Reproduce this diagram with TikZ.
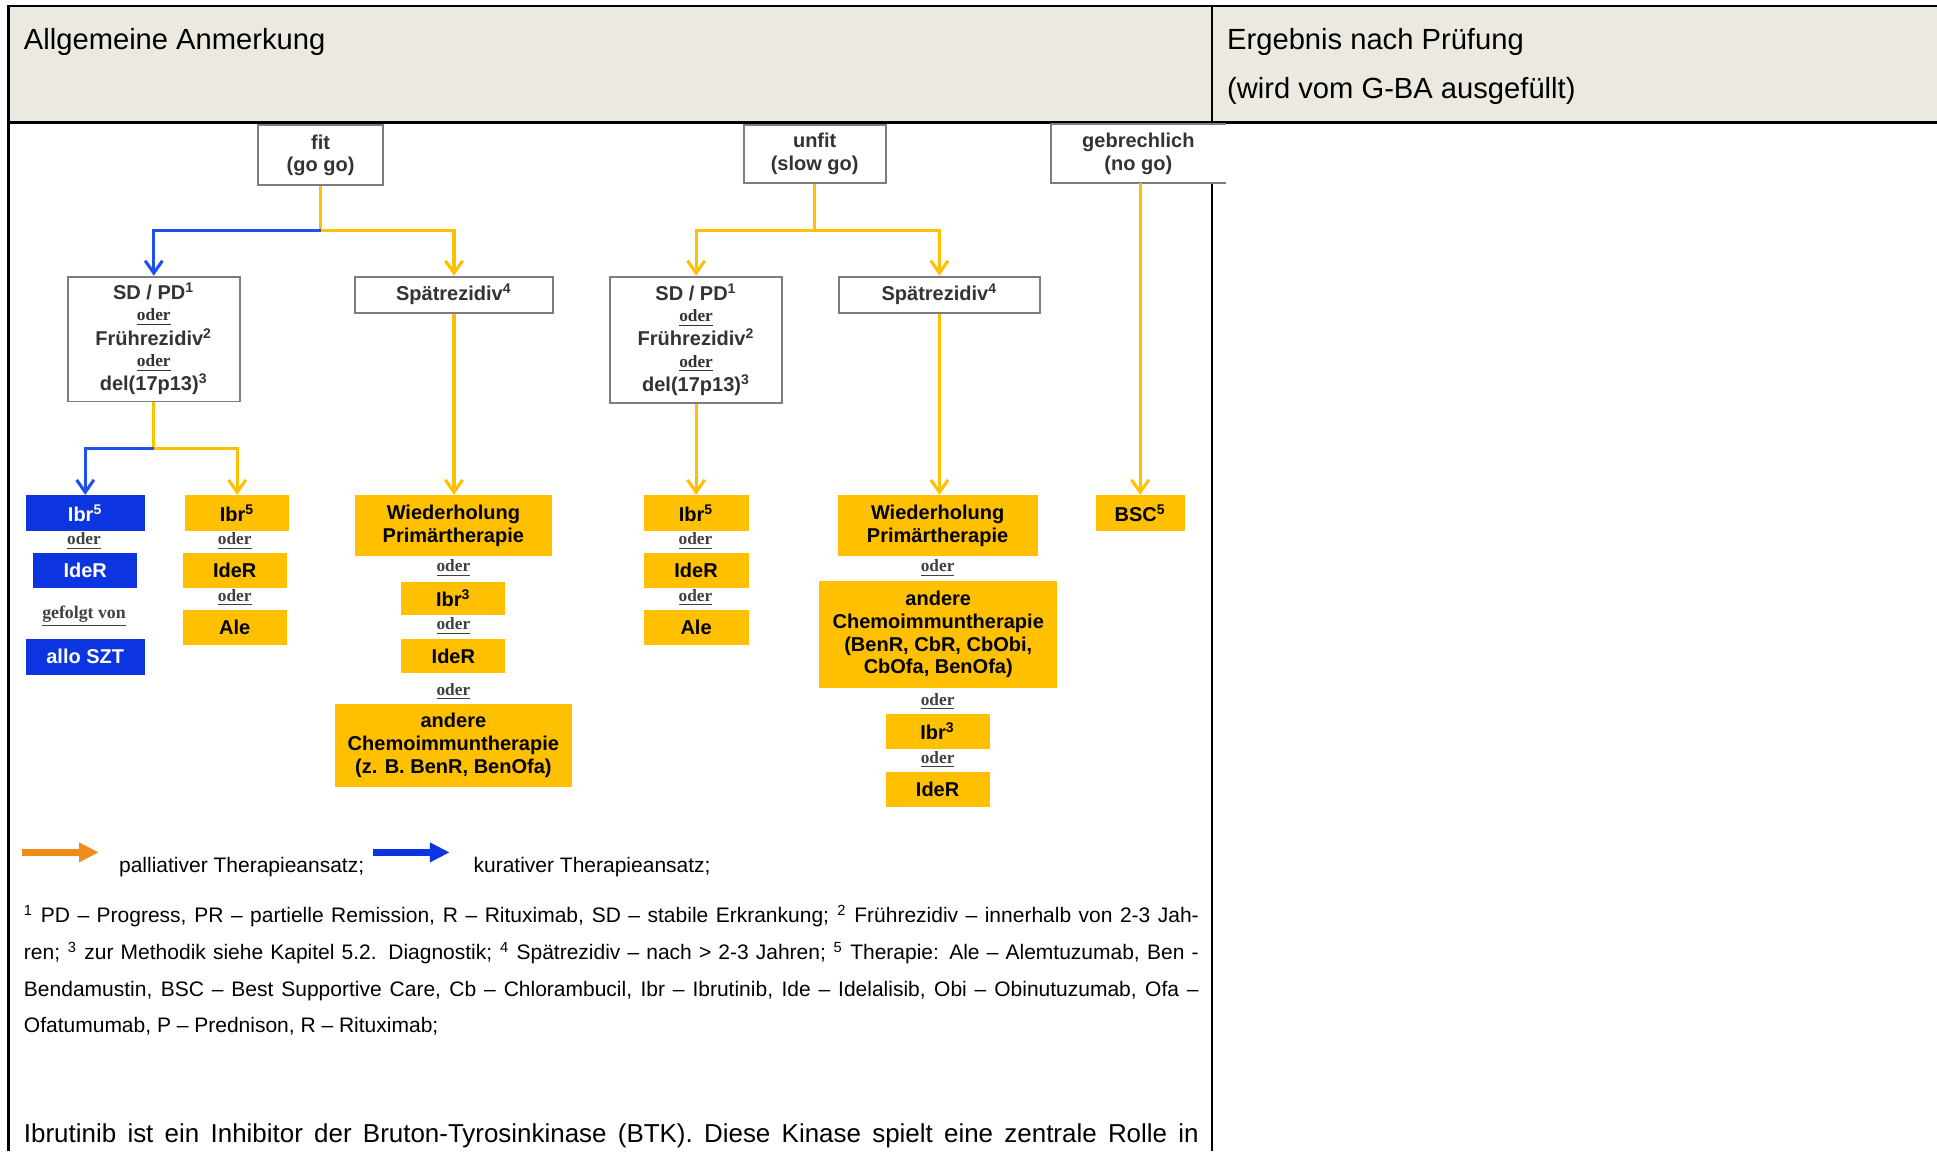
\documentclass[tikz,border=0pt]{standalone}
\usepackage{fontspec}
\setmainfont{Liberation Sans}
\newfontfamily\oderfont{Liberation Serif}
\usetikzlibrary{arrows.meta}
\definecolor{kopfgrau}{RGB}{236,234,224}
\definecolor{gold}{RGB}{255,192,0}
\definecolor{kurblau}{RGB}{12,52,225}
\definecolor{pfeilblau}{RGB}{30,80,235}
\definecolor{orangepf}{RGB}{240,140,25}
\definecolor{rahmen}{RGB}{125,125,125}
\newcommand\oderw{{\oderfont\fontsize{7}{8}\selectfont\bfseries\underline{oder}}}
\newcommand\hoch[1]{\textsuperscript{#1}}
\tikzset{
  boxsz/.style 2 args={minimum width=#1*0.5pt,minimum height=#2*0.5pt},
  zustand/.style={draw=rahmen,line width=0.8pt,fill=white,inner sep=0pt,align=center,
    text=black!80,font=\fontsize{8.1}{9}\selectfont\bfseries},
  gelb/.style={fill=gold,inner sep=0pt,align=center,font=\fontsize{8.1}{9.3}\selectfont\bfseries},
  blau/.style={fill=kurblau,text=white,inner sep=0pt,align=center,font=\fontsize{8.1}{9.3}\selectfont\bfseries},
  odertxt/.style={inner sep=0pt,text=black!75},
  gelbpf/.style={draw=gold,line width=1.25pt,-{Straight Barb[length=5pt,width=7pt]}},
  blaupf/.style={draw=pfeilblau,line width=1.25pt,-{Straight Barb[length=5pt,width=7pt]}},
  legpf/.style={line width=2.7pt,-{Triangle[length=8pt,width=7.5pt]}},
  fntxt/.style={anchor=base west,inner sep=0pt,font=\fontsize{8.5}{10}\selectfont},
  tabl/.style={line width=1pt}
}
\begin{document}
\begin{tikzpicture}[x=0.5pt,y=-0.5pt]
\useasboundingbox (0,0) rectangle (1568,932);
\fill[kopfgrau] (7,5) rectangle (1568,99);
\draw[tabl] (7,932) -- (7,5) -- (1568,5);
\draw[tabl] (7,99) -- (1568,99);
\draw[tabl] (981,5) -- (981,932);
\node[anchor=base west,inner sep=0pt,font=\fontsize{11.8}{14}\selectfont] (allg) at (19,40) {Allgemeine Anmerkung};
\node[anchor=base west,inner sep=0pt,font=\fontsize{11.8}{14}\selectfont] (erg) at (993,40) {Ergebnis nach Prüfung};
\node[anchor=base west,inner sep=0pt,font=\fontsize{11.8}{14}\selectfont] (gba) at (993,80) {(wird vom G-BA ausgefüllt)};

\node[zustand,boxsz={101}{49}] (fit) at (259.5,125.5) {fit\\(go go)};
\node[zustand,boxsz={115}{47}] (unfit) at (659.5,124.5) {unfit\\(slow go)};
\node[fill=white,inner sep=0pt,boxsz={141}{47},align=center,text=black!80,
  font=\fontsize{8.1}{9}\selectfont\bfseries] (gb) at (921.5,124.5) {gebrechlich\\(no go)};
\draw[draw=rahmen,line width=0.8pt] (gb.north east) -- (gb.north west) -- (gb.south west) -- (gb.south east);

\node[zustand,boxsz={139}{101},font=\fontsize{8.1}{8.6}\selectfont\bfseries] (sd1) at (124.5,274.5)
  {SD / PD\hoch{1}\\\oderw\\Frührezidiv\hoch{2}\\\oderw\\del(17p13)\hoch{3}};
\node[zustand,boxsz={161}{29}] (sp1) at (367.5,238.5) {Spätrezidiv\hoch{4}};
\node[zustand,boxsz={139}{102},font=\fontsize{8.1}{8.6}\selectfont\bfseries] (sd2) at (563.5,275)
  {SD / PD\hoch{1}\\\oderw\\Frührezidiv\hoch{2}\\\oderw\\del(17p13)\hoch{3}};
\node[zustand,boxsz={163}{29}] (sp2) at (760.5,238.5) {Spätrezidiv\hoch{4}};

\node[blau,boxsz={96}{29}] (ibrB) at (69,415.5) {Ibr\hoch{5}};
\node[odertxt] (o1) at (68,438) {\oderw};
\node[blau,boxsz={84}{28}] (ideB) at (69,462) {IdeR};
\node[odertxt,font=\oderfont\fontsize{7.2}{8}\selectfont\bfseries] (gefolgt) at (68,499) {\underline{gefolgt von}};
\node[blau,boxsz={96}{29}] (szt) at (69,531.5) {allo SZT};

\node[gelb,boxsz={84}{29}] (ibrA) at (192,415.5) {Ibr\hoch{5}};
\node[odertxt] (o2) at (190,438) {\oderw};
\node[gelb,boxsz={84}{28}] (ideA) at (190,462) {IdeR};
\node[odertxt] (o3) at (190,484) {\oderw};
\node[gelb,boxsz={84}{28}] (aleA) at (190,508) {Ale};

\node[gelb,boxsz={160}{49}] (wh1) at (367,425.5) {Wiederholung\\Primärtherapie};
\node[odertxt] (o4) at (367,460) {\oderw};
\node[gelb,boxsz={84}{27}] (ibrC) at (367,484.5) {Ibr\hoch{3}};
\node[odertxt] (o5) at (367,507) {\oderw};
\node[gelb,boxsz={84}{28}] (ideC) at (367,531) {IdeR};
\node[odertxt] (o6) at (367,560) {\oderw};
\node[gelb,boxsz={192}{67}] (chem1) at (367,603.5) {andere\\Chemoimmuntherapie\\(z. B. BenR, BenOfa)};

\node[gelb,boxsz={85}{29}] (ibrD) at (563.5,415.5) {Ibr\hoch{5}};
\node[odertxt] (o7) at (563,438) {\oderw};
\node[gelb,boxsz={85}{28}] (ideD) at (563.5,462) {IdeR};
\node[odertxt] (o8) at (563,484) {\oderw};
\node[gelb,boxsz={85}{28}] (aleD) at (563.5,508) {Ale};

\node[gelb,boxsz={162}{49}] (wh2) at (759,425.5) {Wiederholung\\Primärtherapie};
\node[odertxt] (o9) at (759,460) {\oderw};
\node[gelb,boxsz={193}{87}] (chem2) at (759.5,513.5)
  {andere\\Chemoimmuntherapie\\(BenR, CbR, CbObi,\\CbOfa, BenOfa)};
\node[odertxt] (o10) at (759,568) {\oderw};
\node[gelb,boxsz={84}{28}] (ibrE) at (759,592) {Ibr\hoch{3}};
\node[odertxt] (o11) at (759,615) {\oderw};
\node[gelb,boxsz={84}{28}] (ideE) at (759,639) {IdeR};

\node[gelb,boxsz={72}{29}] (bsc) at (923,415.5) {BSC\hoch{5}};

\draw[gelbpf] (fit.south) -- ++(0,36) coordinate (jfit) -| (sp1.north);
\draw[blaupf] (jfit) -| (sd1.north);
\draw[gelbpf] (sd1.south) -- ++(0,37) coordinate (jsd) -| (ibrA.north);
\draw[blaupf] (jsd) -| (ibrB.north);
\draw[gelbpf] (sp1.south) -- (sp1.south |- wh1.north);
\draw[gelbpf] (unfit.south) -- ++(0,38) coordinate (juf) -| (sp2.north);
\draw[gelbpf] (juf) -| (sd2.north);
\draw[gelbpf] (sd2.south) -- (ibrD.north);
\draw[gelbpf] (sp2.south) -- (sp2.south |- wh2.north);
\draw[gelbpf] (bsc.north |- gb.south) -- (bsc.north);

\coordinate (pa) at (18,690);
\coordinate (pe) at (80,690);
\coordinate (ka) at (302,690);
\coordinate (ke) at (364,690);
\draw[legpf,draw=orangepf,fill=orangepf] (pa) -- (pe);
\draw[legpf,draw=kurblau,fill=kurblau] (ka) -- (ke);
\node[fntxt] (palli) at (96,706) {palliativer Therapieansatz;};
\node[fntxt] (kura) at (383,706) {kurativer Therapieansatz;};

\node[fntxt] (fn1) at (19,747) {\makebox[475.5pt][s]{\hoch{1} PD – Progress, PR – partielle Remission, R – Rituximab, SD – stabile Erkrankung; \hoch{2} Frührezidiv – innerhalb von 2-3 Jah-}};
\node[fntxt] (fn2) at (19,777) {\makebox[475.5pt][s]{ren; \hoch{3} zur Methodik siehe Kapitel 5.2. Diagnostik; \hoch{4} Spätrezidiv – nach > 2-3 Jahren; \hoch{5} Therapie: Ale – Alemtuzumab, Ben -}};
\node[fntxt] (fn3) at (19,807) {\makebox[475.5pt][s]{Bendamustin, BSC – Best Supportive Care, Cb – Chlorambucil, Ibr – Ibrutinib, Ide – Idelalisib, Obi – Obinutuzumab, Ofa –}};
\node[fntxt] (fn4) at (19,836) {Ofatumumab, P – Prednison, R – Rituximab;};

\node[anchor=base west,inner sep=0pt,font=\fontsize{10.5}{12}\selectfont] (ibtx) at (19,925)
  {\makebox[475.5pt][s]{Ibrutinib ist ein Inhibitor der Bruton-Tyrosinkinase (BTK). Diese Kinase spielt eine zentrale Rolle in}};
\end{tikzpicture}
\end{document}
